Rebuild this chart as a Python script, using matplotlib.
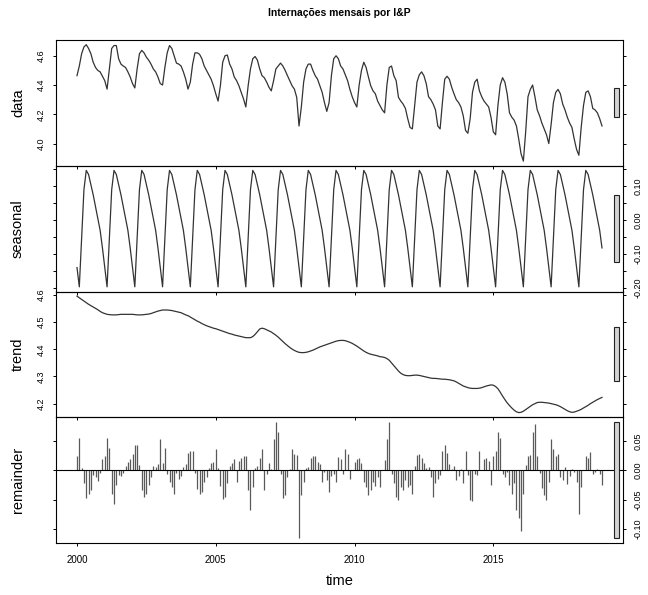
import numpy as np
import matplotlib
matplotlib.use("Agg")
import matplotlib.pyplot as plt
from matplotlib.patches import Rectangle

plt.rcParams['font.family'] = ['Liberation Sans', 'DejaVu Sans']

title = "Internações mensais por I&P"
panel_labels = ["data", "seasonal", "trend", "remainder"]
xlabel = "time"
start_year = 2000
n_months = 228
x_ticks = [2000, 2005, 2010, 2015]

data = [
    4.464, 4.53, 4.614, 4.66, 4.676, 4.65, 4.614, 4.556, 4.52, 4.50, 4.49, 4.46,
    4.43, 4.372, 4.51, 4.65, 4.67, 4.67, 4.58, 4.543, 4.53, 4.52, 4.49, 4.455,
    4.41, 4.38, 4.51, 4.614, 4.637, 4.62, 4.59, 4.57, 4.543, 4.51, 4.49, 4.455,
    4.41, 4.40, 4.52, 4.62, 4.67, 4.65, 4.60, 4.55, 4.543, 4.53, 4.49, 4.44,
    4.372, 4.42, 4.543, 4.62, 4.62, 4.61, 4.58, 4.53, 4.50, 4.47, 4.44, 4.395,
    4.34, 4.29, 4.395, 4.556, 4.60, 4.605, 4.543, 4.51, 4.455, 4.43, 4.395, 4.35,
    4.305, 4.25, 4.395, 4.51, 4.58, 4.595, 4.57, 4.51, 4.464, 4.45, 4.42, 4.385,
    4.36, 4.43, 4.51, 4.53, 4.55, 4.53, 4.50, 4.464, 4.43, 4.395, 4.372, 4.316,
    4.12, 4.25, 4.42, 4.51, 4.543, 4.543, 4.50, 4.464, 4.44, 4.395, 4.35, 4.28,
    4.22, 4.28, 4.464, 4.58, 4.60, 4.58, 4.53, 4.51, 4.47, 4.43, 4.37, 4.32,
    4.28, 4.25, 4.40, 4.50, 4.556, 4.52, 4.455, 4.395, 4.36, 4.34, 4.29, 4.26,
    4.23, 4.21, 4.40, 4.52, 4.53, 4.464, 4.43, 4.316, 4.29, 4.27, 4.24, 4.17,
    4.11, 4.10, 4.26, 4.42, 4.47, 4.49, 4.464, 4.41, 4.32, 4.30, 4.27, 4.23,
    4.12, 4.10, 4.28, 4.44, 4.46, 4.44, 4.385, 4.34, 4.30, 4.28, 4.25, 4.19,
    4.09, 4.07, 4.17, 4.35, 4.42, 4.44, 4.36, 4.32, 4.29, 4.27, 4.25, 4.18,
    4.08, 4.06, 4.26, 4.40, 4.45, 4.42, 4.34, 4.21, 4.18, 4.16, 4.12, 4.03,
    3.93, 3.88, 4.08, 4.32, 4.37, 4.40, 4.32, 4.23, 4.19, 4.14, 4.10, 4.06,
    4.00, 4.13, 4.28, 4.35, 4.37, 4.34, 4.27, 4.23, 4.18, 4.14, 4.11, 4.03,
    3.96, 3.92, 4.11, 4.26, 4.35, 4.36, 4.32, 4.24, 4.23, 4.21, 4.17, 4.12,
]

seasonal_pattern = [-0.14, -0.197, -0.05, 0.09, 0.147, 0.135,
                    0.105, 0.075, 0.04, 0.005, -0.03, -0.082]

trend = [
    4.596, 4.590, 4.584, 4.578, 4.572, 4.566, 4.561, 4.556, 4.551, 4.546, 4.540, 4.535,
    4.532, 4.529, 4.528, 4.527, 4.527, 4.527, 4.528, 4.529, 4.529, 4.529, 4.529, 4.529,
    4.529, 4.528, 4.527, 4.527, 4.527, 4.528, 4.529, 4.530, 4.532, 4.535, 4.538, 4.541,
    4.543, 4.545, 4.545, 4.545, 4.544, 4.543, 4.541, 4.539, 4.537, 4.535, 4.531, 4.527,
    4.524, 4.519, 4.514, 4.509, 4.504, 4.500, 4.495, 4.491, 4.487, 4.484, 4.481, 4.478,
    4.476, 4.473, 4.470, 4.467, 4.464, 4.461, 4.458, 4.456, 4.453, 4.451, 4.449, 4.447,
    4.445, 4.443, 4.443, 4.443, 4.447, 4.455, 4.465, 4.475, 4.478, 4.476, 4.472, 4.468,
    4.464, 4.458, 4.452, 4.445, 4.437, 4.429, 4.421, 4.414, 4.407, 4.401, 4.396, 4.392,
    4.389, 4.388, 4.388, 4.389, 4.391, 4.394, 4.397, 4.401, 4.405, 4.409, 4.412, 4.415,
    4.418, 4.421, 4.424, 4.427, 4.430, 4.432, 4.433, 4.433, 4.432, 4.429, 4.426, 4.422,
    4.417, 4.412, 4.406, 4.400, 4.394, 4.389, 4.385, 4.382, 4.380, 4.378, 4.376, 4.373,
    4.372, 4.370, 4.366, 4.360, 4.350, 4.340, 4.330, 4.320, 4.312, 4.307, 4.304, 4.303,
    4.303, 4.304, 4.305, 4.305, 4.304, 4.302, 4.300, 4.298, 4.296, 4.294, 4.293, 4.293,
    4.292, 4.291, 4.290, 4.290, 4.289, 4.288, 4.286, 4.284, 4.280, 4.275, 4.270, 4.265,
    4.262, 4.259, 4.257, 4.256, 4.256, 4.256, 4.257, 4.259, 4.262, 4.265, 4.267, 4.269,
    4.268, 4.263, 4.255, 4.242, 4.228, 4.215, 4.203, 4.193, 4.184, 4.176, 4.170, 4.167,
    4.168, 4.172, 4.178, 4.184, 4.190, 4.196, 4.200, 4.204, 4.205, 4.205, 4.204, 4.203,
    4.202, 4.200, 4.198, 4.196, 4.193, 4.189, 4.184, 4.179, 4.174, 4.170, 4.168, 4.169,
    4.172, 4.175, 4.179, 4.184, 4.189, 4.194, 4.200, 4.205, 4.210, 4.215, 4.219, 4.223,
]

remainder = [
    0.024, 0.056, 0.005, -0.022, -0.047, -0.04, -0.033, -0.008, -0.012, -0.018, -0.005, 0.02,
    0.025, 0.055, 0.038, -0.04, -0.057, -0.025, -0.007, -0.01, -0.005, 0.008, 0.015, 0.02,
    0.028, 0.043, 0.044, 0.01, -0.034, -0.045, -0.04, -0.025, -0.012, 0.008, 0.006, 0.011,
    0.054, 0.012, 0.038, -0.006, -0.02, -0.028, -0.04, -0.005, -0.014, -0.01, 0.006, 0.011,
    0.03, 0.034, 0.033, -0.005, -0.031, -0.04, -0.036, -0.02, -0.012, 0.005, 0.012, 0.014,
    0.036, 0.004, -0.026, -0.048, -0.046, -0.022, 0.008, 0.012, 0.02, -0.02, 0.017, 0.022,
    0.025, 0.024, -0.034, -0.068, -0.028, 0.005, 0.008, 0.022, 0.037, -0.034, -0.006, 0.012,
    0.003, 0.054, 0.083, 0.066, -0.006, -0.047, -0.042, -0.012, 0.003, 0.037, 0.028, 0.026,
    -0.116, -0.042, -0.02, 0.004, 0.006, 0.022, 0.025, 0.025, 0.014, 0.011, -0.02, -0.003,
    -0.017, -0.037, -0.009, -0.006, -0.02, 0.023, 0.02, -0.006, 0.036, 0.028, -0.014, 0.001,
    0.014, 0.02, 0.022, 0.013, -0.02, -0.028, -0.042, -0.034, -0.02, -0.026, -0.011, -0.028,
    0.001, 0.018, 0.054, 0.083, -0.006, -0.022, -0.045, -0.05, -0.028, -0.034, -0.017, -0.028,
    -0.025, -0.04, 0.008, 0.026, 0.028, 0.021, 0.013, 0.004, 0.006, -0.011, -0.046, -0.022,
    -0.015, -0.008, 0.034, 0.043, 0.03, 0.011, 0.003, 0.008, -0.017, -0.009, 0.003, -0.022,
    0.034, -0.008, -0.05, -0.053, -0.006, -0.008, 0.034, 0.0, 0.02, 0.022, 0.017, -0.025,
    0.025, 0.034, 0.065, 0.056, -0.006, -0.012, -0.003, -0.025, -0.04, -0.022, -0.068, -0.082,
    -0.103, -0.04, 0.01, 0.025, 0.026, 0.065, 0.08, 0.025, -0.005, -0.03, -0.042, -0.05,
    -0.02, 0.054, 0.037, 0.025, 0.028, -0.011, -0.017, 0.006, -0.023, -0.009, 0.003, -0.003,
    -0.02, -0.074, -0.028, 0.001, 0.025, 0.022, 0.031, -0.006, -0.003, 0.003, -0.006, -0.025,
]

y_ticks = [
    [4.0, 4.2, 4.4, 4.6],
    [-0.20, -0.15, -0.10, -0.05, 0.00, 0.05, 0.10, 0.15],
    [4.2, 4.3, 4.4, 4.5, 4.6],
    [-0.10, -0.05, 0.00, 0.05],
]
y_ticklabels = [
    ["4.0", "4.2", "4.4", "4.6"],
    ["-0.20", "", "-0.10", "", "0.00", "", "0.10", ""],
    ["4.2", "4.3", "4.4", "4.5", "4.6"],
    ["-0.10", "-0.05", "0.00", "0.05"],
]

time = start_year + np.arange(n_months) / 12.0
seasonal = np.tile(seasonal_pattern, n_months // 12)
series = [np.asarray(data), seasonal, np.asarray(trend), np.asarray(remainder)]

W, H = 648, 595
fig = plt.figure(figsize=(W / 100, H / 100), dpi=100)

left_px, right_px = 56, 623
top_px, bottom_px = 40, 543
ph = (bottom_px - top_px) / 4.0

line_col = "#333333"
tr = time[-1] - time[0]
xlim = (time[0] - 0.04 * tr, time[-1] + 0.04 * tr)
mx = min(np.ptp(s) for s in series)

for i, (s, lab) in enumerate(zip(series, panel_labels)):
    top = top_px + i * ph
    ax = fig.add_axes([left_px / W, 1 - (top + ph) / H,
                       (right_px - left_px) / W, ph / H])
    ax.set_facecolor("none")
    if i < 3:
        ax.plot(time, s, color=line_col, lw=0.9)
        lo, hi = s.min(), s.max()
    else:
        ax.vlines(time, 0, s, color="#5a5a5a", lw=0.9)
        ax.axhline(0, color="black", lw=0.8)
        lo, hi = min(s.min(), 0), max(s.max(), 0)
    r = hi - lo
    ylim = (lo - 0.04 * r, hi + 0.04 * r)
    ax.set_xlim(xlim)
    ax.set_ylim(ylim)
    # range bar
    dx = (xlim[1] - xlim[0]) / 64.0
    mid = (s.min() + s.max()) / 2.0
    ax.add_patch(Rectangle((xlim[1] - dx, mid - mx / 2), 0.6 * dx, mx,
                           facecolor="#d3d3d3", edgecolor="#222222", lw=0.8,
                           zorder=3))
    for sp in ax.spines.values():
        sp.set_linewidth(0.8)
        sp.set_color("black")
    right = (i % 2 == 1)
    ax.set_yticks(y_ticks[i])
    ax.set_yticklabels(y_ticklabels[i])
    ax.tick_params(axis="y", left=True, right=True, labelleft=not right,
                   labelright=right, direction="out", length=2.5, width=0.7,
                   labelsize=6.5, pad=5, labelrotation=90)
    for t in ax.get_yticklabels():
        t.set_va("center")
    ax.set_xticks(x_ticks)
    ax.tick_params(axis="x", bottom=True, labelbottom=(i == 3), direction="out",
                   length=2.5, width=0.7, labelsize=7, pad=6)
    fig.text(18 / W, 1 - (top + ph / 2) / H, lab, rotation=90, ha="center",
             va="center", fontsize=10.5)

fig.text((left_px + right_px) / 2 / W, 1 - 13 / H, title, ha="center",
         va="center", fontsize=7.5, fontweight="bold")
fig.text((left_px + right_px) / 2 / W, 1 - 581 / H, xlabel, ha="center",
         va="center", fontsize=10.5)

fig.savefig("out.png", dpi=100)
